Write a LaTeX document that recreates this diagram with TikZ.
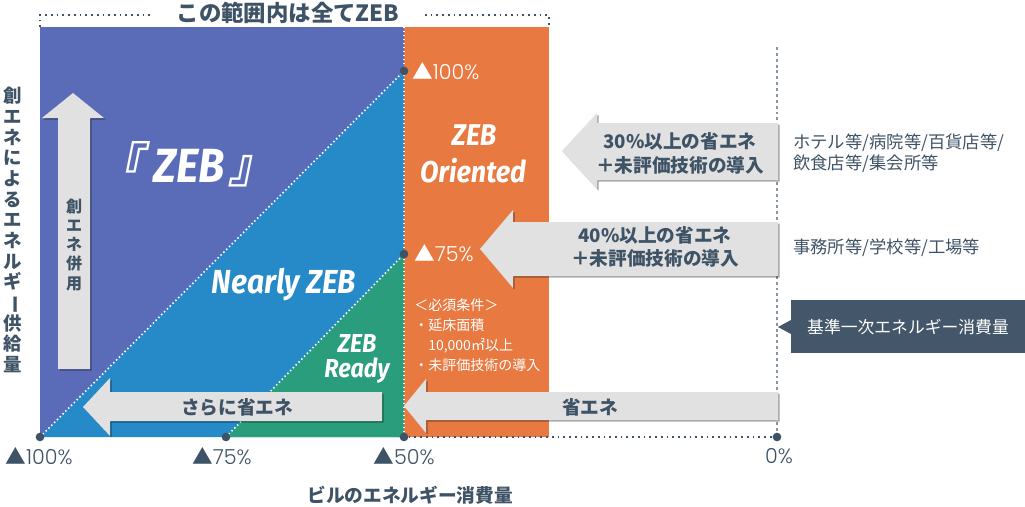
\documentclass[tikz,border=0pt]{standalone}
\usepackage{fontspec}
\usepackage{graphicx}
\usetikzlibrary{shadows}
\newfontfamily\jp{Noto Sans CJK JP}
\newfontfamily\jps{Noto Sans CJK JP}[FakeSlant=0.2]
\newfontfamily\zeb{Fira Sans}[FakeStretch=0.9]
\newfontfamily\pct{Poppins}[UprightFont={* Light}]
\definecolor{cpurple}{HTML}{5A6BB8}
\definecolor{cblue}{HTML}{268AC8}
\definecolor{cgreen}{HTML}{2A9D7C}
\definecolor{corange}{HTML}{E87A41}
\definecolor{cgray}{HTML}{E1E1E1}
\definecolor{cdark}{HTML}{3F5366}
\definecolor{cbox}{HTML}{44566A}
\definecolor{cline}{HTML}{8896A3}
\tikzset{
  wdot/.style={white, line width=1.2pt, dash pattern=on 1.1pt off 1.9pt},
  ddot/.style={cdark, line width=1.1pt, dash pattern=on 1.3pt off 3pt},
  vline/.style={cline, line width=0.8pt, dash pattern=on 2.2pt off 2.2pt},
  garrow/.style={fill=cgray, drop shadow={shadow xshift=1.2pt, shadow yshift=-1.2pt, opacity=0.35, fill=black}},
  dotn/.style={circle, fill=cdark, inner sep=0pt, minimum size=6.5pt},
  atext/.style={font=\jp\bfseries\fontsize{14}{17.5}\selectfont, text=cdark, align=center, inner sep=0pt},
  rtext/.style={font=\jp\fontsize{13}{15.5}\selectfont, text=cdark, align=left, inner sep=0pt, anchor=west},
  zebt/.style={font=\zeb\bfseries\itshape, text=white, inner sep=0pt, anchor=base},
  pctw/.style={font=\pct\fontsize{15.5}{17}\selectfont, text=white, inner sep=0pt},
  pctd/.style={font=\pct\fontsize{15.5}{17}\selectfont, text=cdark, inner sep=0pt},
}
\begin{document}
\begin{tikzpicture}[x=0.75pt,y=-0.75pt]
\path[use as bounding box] (0,0) rectangle (1025,507);
% regions
\fill[cpurple] (40,27) rectangle (404,437);
\fill[cblue] (40,437) -- (404,71) -- (404,437) -- cycle;
\fill[cgreen] (226,437) -- (404,254) -- (404,437) -- cycle;
\fill[corange] (404,27) rectangle (549,437);
% dotted lines
\draw[wdot] (404,27) -- (404,437);
\draw[wdot] (40,437) -- (404,71);
\draw[wdot] (226,437) -- (404,254);
\draw[vline] (777,47) -- (777,437);
% top bracket
\coordinate (tl) at (40,27);
\coordinate (tr) at (549,27);
\node[font=\jp\bfseries\fontsize{16.8}{19}\selectfont, text=cdark, inner sep=0pt] (title) at (288,13) {この範囲内は全てZEB};
\draw[ddot] (tl) -- (40,15) -- (150,15);
\draw[ddot] (425,15) -- (549,15) -- (tr);
% markers
\node[dotn] (d100) at (404,71) {};
\node[dotn] (d75) at (404,254) {};
\node[dotn] (x100) at (40,437) {};
\node[dotn] (x75) at (226,437) {};
\node[dotn] (x50) at (404,437) {};
\node[dotn] (x0) at (777,437) {};
\draw[ddot] (x50) -- (x0);
% up arrow
\path[garrow] (58,369) -- (58,118) -- (42,118) -- (73,93) -- (104,118) -- (90,118) -- (90,369) -- cycle;
\node[font=\jp\bfseries\fontsize{12}{14.3}\selectfont, text=cdark, align=center, inner sep=0pt] (sou) at (74,245) {創\\エ\\ネ\\併\\用};
% gray arrows
\path[garrow] (778,123) -- (597,123) -- (597,113) -- (562,151) -- (597,189) -- (597,180) -- (778,180) -- cycle;
\path[garrow] (778,222) -- (513,222) -- (513,210) -- (480,249) -- (513,288) -- (513,276) -- (778,276) -- cycle;
\path[garrow] (778,392) -- (426,392) -- (426,379) -- (404,406) -- (426,433) -- (426,420) -- (778,420) -- cycle;
\path[garrow] (382,392) -- (110,392) -- (110,378) -- (83,407) -- (110,436) -- (110,421) -- (382,421) -- cycle;
\node[atext] (a30) at (680,153.5) {30\%以上の省エネ\\＋未評価技術の導入};
\node[atext] (a40) at (655,247) {40\%以上の省エネ\\＋未評価技術の導入};
\node[atext] (ase) at (590,407) {省エネ};
\node[atext] (asara) at (237,407) {さらに省エネ};
% region labels
\node[zebt, font=\zeb\bfseries\itshape\fontsize{36}{40}\selectfont] (zebbig) at (186,182) {{\jps『}\hspace{0.2em}ZEB\hspace{0.08em}{\jps』}};
\node[zebt, font=\zeb\bfseries\itshape\fontsize{25}{28}\selectfont] (nearly) at (284,293) {Nearly ZEB};
\node[zebt, font=\zeb\bfseries\itshape\fontsize{19.5}{22}\selectfont] (ready1) at (357,352) {ZEB};
\node[zebt, font=\zeb\bfseries\itshape\fontsize{19.5}{22}\selectfont] (ready2) at (357,377) {Ready};
\node[zebt, font=\zeb\bfseries\itshape\fontsize{22.5}{26}\selectfont] (ori1) at (474,145) {ZEB};
\node[zebt, font=\zeb\bfseries\itshape\fontsize{22.5}{26}\selectfont] (ori2) at (473,182) {Oriented};
% percent labels
\node[pctw, anchor=west] (p100) at (412,71) {{\jp ▲}100\%};
\node[pctw, anchor=west] (p75) at (414,253) {{\jp ▲}75\%};
\node[pctd] (b100) at (39,456) {{\jp ▲}100\%};
\node[pctd] (b75) at (222,456) {{\jp ▲}75\%};
\node[pctd] (b50) at (404,456) {{\jp ▲}50\%};
\node[pctd] (b0) at (779,456) {0\%};
% conditions
\node[font=\jp\fontsize{10.5}{15}\selectfont, text=white, align=left, inner sep=0pt, anchor=north west] (cond) at (414,298) {＜必須条件＞\\・延床面積\\\phantom{・}10,000㎡以上\\・未評価技術の導入};
% right texts
\node[rtext] (r1) at (793,153) {ホテル等/病院等/百貨店等/\\飲食店等/集会所等};
\node[rtext] (r2) at (793,248) {事務所等/学校等/工場等};
% dark box
\fill[cbox] (791,300) rectangle (1025,353);
\fill[cbox] (791,320) -- (778,327) -- (791,334) -- cycle;
\node[font=\jp\fontsize{12.6}{15}\selectfont, text=white, inner sep=0pt] (kijun) at (908,327) {基準一次エネルギー消費量};
% axis titles
\node[font=\jp\bfseries\fontsize{14}{17}\selectfont, text=cdark, inner sep=0pt] (xt) at (410,495) {ビルのエネルギー消費量};
\node[font=\jp\bfseries\fontsize{13.8}{15.5}\selectfont, text=cdark, align=center, inner sep=0pt] (yt) at (13,230) {創\\エ\\ネ\\に\\よ\\る\\エ\\ネ\\ル\\ギ\\\rotatebox[origin=c]{-90}{ー}\\供\\給\\量};
\end{tikzpicture}
\end{document}
